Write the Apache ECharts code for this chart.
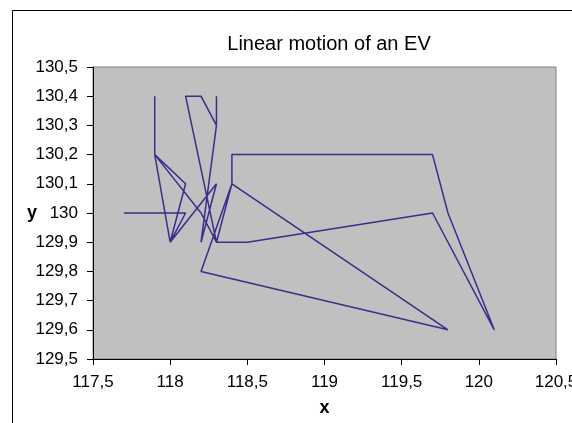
<!DOCTYPE html>
<html>
<head>
<meta charset="utf-8">
<script src="https://cdn.jsdelivr.net/npm/echarts@6/dist/echarts.min.js"></script>
<style>
html,body{margin:0;padding:0;background:#fff;}
#c{width:572px;height:423px;}
</style>
</head>
<body>
<div id="c"></div>
<script>
// Data (x, y positions in path order)
const xValues = [117.9, 117.9, 118.1, 118.0, 118.3, 118.2, 118.3, 118.3, 118.3, 118.2, 118.1, 118.3, 118.5, 119.7, 120.1, 119.8, 119.7, 118.4, 118.4, 119.8, 118.2, 118.4, 118.3, 118.2, 117.9, 118.0, 118.1, 117.7];
const yValues = [130.4, 130.2, 130.1, 129.9, 130.1, 129.9, 130.3, 130.4, 130.3, 130.4, 130.4, 129.9, 129.9, 130.0, 129.6, 130.0, 130.2, 130.2, 130.1, 129.6, 129.8, 130.1, 129.9, 130.0, 130.2, 129.9, 130.0, 130.0];
const titleText = 'Linear motion of an EV';
const xName = 'x';
const yName = 'y';

const pts = xValues.map((x, i) => [x, yValues[i]]);
const fmt = v => String(Number(v.toFixed(1))).replace('.', ',');
const FONT = 'Liberation Sans, Arial, sans-serif';

const chart = echarts.init(document.getElementById('c'), null, {renderer: 'canvas'});
chart.setOption({
  backgroundColor: '#ffffff',
  animation: false,
  title: {
    text: titleText,
    left: 324,
    top: 29,
    textAlign: 'center',
    textStyle: {fontFamily: FONT, fontSize: 20, fontWeight: 'normal', color: '#000'}
  },
  graphic: [
    {type: 'rect', shape: {x: 12.5, y: 10.5, width: 600, height: 450}, style: {fill: 'none', stroke: '#000', lineWidth: 1}, z: 0}
  ],
  grid: {left: 93, top: 67, right: 16, bottom: 64, containLabel: false, outerBoundsMode: 'none', show: true, backgroundColor: '#c0c0c0', borderColor: '#808080', borderWidth: 1},
  xAxis: {
    type: 'value', min: 117.5, max: 120.5, interval: 0.5,
    name: xName, nameLocation: 'middle', nameGap: 40, nameMoveOverlap: false,
    nameTextStyle: {fontFamily: FONT, fontSize: 18, fontWeight: 'bold', color: '#000'},
    axisLine: {show: true, onZero: false, lineStyle: {color: '#000', width: 1}},
    axisTick: {show: true, inside: false, length: 6, lineStyle: {color: '#000'}},
    axisLabel: {formatter: fmt, margin: 15, fontFamily: FONT, fontSize: 17, color: '#000', showMaxLabel: true, hideOverlap: false},
    splitLine: {show: false}
  },
  yAxis: {
    type: 'value', min: 129.5, max: 130.5, interval: 0.1,
    name: yName, nameLocation: 'middle', nameGap: 56, nameRotate: 0, nameMoveOverlap: false,
    nameTextStyle: {fontFamily: FONT, fontSize: 18, fontWeight: 'bold', color: '#000'},
    axisLine: {show: true, onZero: false, lineStyle: {color: '#000', width: 1}},
    axisTick: {show: true, inside: false, length: 6, lineStyle: {color: '#000'}},
    axisLabel: {formatter: fmt, margin: 15, fontFamily: FONT, fontSize: 17, color: '#000'},
    splitLine: {show: false}
  },
  series: [{
    type: 'line',
    data: pts,
    showSymbol: false,
    symbol: 'none',
    lineStyle: {color: '#3a2d8c', width: 1.5},
    clip: false
  }]
});
</script>
</body>
</html>
